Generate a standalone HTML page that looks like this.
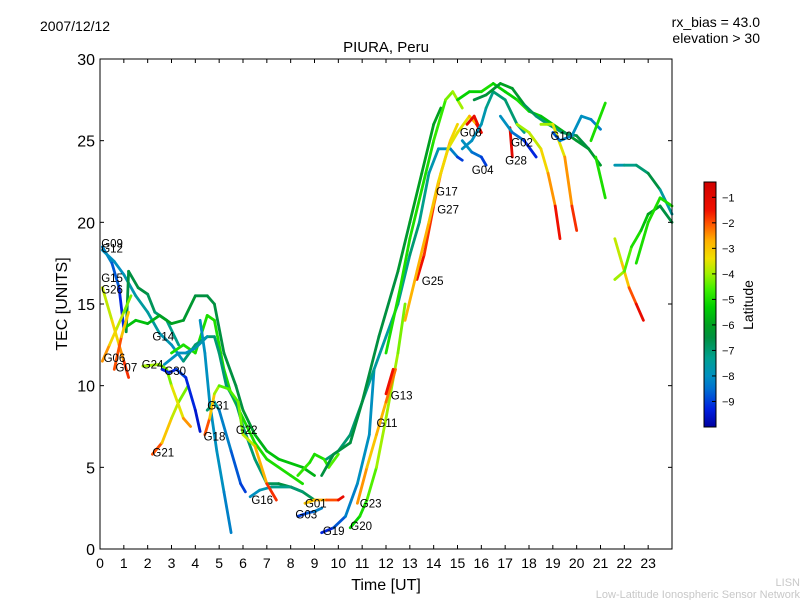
<!DOCTYPE html>
<html><head><meta charset="utf-8"><style>
body{margin:0;background:#fff}
svg{display:block;font-family:"Liberation Sans","DejaVu Sans",sans-serif}
</style></head><body>
<svg id="chart" width="800" height="600" viewBox="0 0 800 600">
<defs><linearGradient id="cmap" x1="0" y1="1" x2="0" y2="0"></linearGradient></defs>
<rect x="0" y="0" width="800" height="600" fill="#fff"/>
<text x="40" y="31" font-size="14">2007/12/12</text>
<text x="760" y="27" font-size="14" text-anchor="end">rx_bias = 43.0</text>
<text x="760" y="43" font-size="14" text-anchor="end">elevation &gt; 30</text>
<text x="386" y="52" font-size="15" text-anchor="middle">PIURA, Peru</text>
<g id="marks"></g>
<g id="labels"></g>
<rect x="100" y="59" width="572" height="490" fill="none" stroke="#000" stroke-width="1"/>
<g id="axes"></g>
<text x="386" y="590" font-size="16" text-anchor="middle">Time [UT]</text>
<text transform="translate(67,304) rotate(-90)" font-size="16" text-anchor="middle">TEC [UNITS]</text>
<rect x="704" y="182" width="12" height="245" fill="url(#cmap)" stroke="#000" stroke-width="1"/>
<g id="cbticks"></g>
<text transform="translate(753,305) rotate(-90)" font-size="14" text-anchor="middle">Latitude</text>
<text x="800" y="586" font-size="11" fill="#c8c8c8" text-anchor="end">LISN</text>
<text x="800" y="598" font-size="11" fill="#c8c8c8" text-anchor="end">Low-Latitude Ionospheric Sensor Network</text>
</svg>
<script>
const xTicks=[0,1,2,3,4,5,6,7,8,9,10,11,12,13,14,15,16,17,18,19,20,21,22,23];
const yTicks=[0,5,10,15,20,25,30];
const cbTicks=[-1,-2,-3,-4,-5,-6,-7,-8,-9];
// tracks: [hour, TEC, latitude]
const trackG09=[[0.1,18.5,-8],[0.5,17.5,-8.5],[0.8,16,-9],[1.0,13.5,-9.5]];
const trackG12=[[0.1,18.3,-8],[0.6,17.6,-8],[1.0,16.8,-8],[1.5,15.5,-7.5],[2.0,14.5,-7.5],[2.5,13.2,-7.5],[3.0,12.5,-8],[3.5,11.5,-8]];
const trackG15=[[1.1,13.3,-6.5],[1.2,17,-6.5],[1.6,16,-6.5],[2.0,15.6,-6.5],[2.3,14.5,-7],[2.8,14,-7],[3.3,12.5,-7.5]];
const trackG14=[[1.0,13.5,-5.5],[1.5,14,-5.5],[2.0,13.8,-5.5],[2.5,14.3,-6],[3.0,13.8,-6],[3.5,14,-6],[4.0,15.5,-6.5],[4.5,15.5,-6.5],[4.8,15,-6.5],[5.2,12,-6.5],[5.7,10,-6.5],[6.0,8.5,-6.5],[6.5,7,-6],[7,6,-5.5],[7.5,5.5,-5.5],[8.5,5,-5.5],[9,4.5,-6]];
const trackB=[[3.0,12,-5],[3.5,12.5,-5],[4.0,12,-5],[4.5,14.3,-5],[4.8,14,-5],[5.2,11,-5],[5.5,9.5,-5],[6.0,8,-5],[6.5,6.5,-5],[7,5.5,-5],[8,4.5,-5],[8.5,4,-5]];
const trackC=[[3.5,11.5,-7],[4.0,12.5,-7],[4.5,13,-7],[4.8,13,-7],[5.0,12,-7],[5.3,10,-7],[5.7,9,-7],[6.0,7.5,-7],[6.5,5.5,-7],[7,4,-7],[7.5,4,-6.5],[8,3.8,-6.5],[8.5,3.5,-6.5],[9,3,-7]];
const trackD=[[4.2,14,-8],[4.4,12,-8],[4.6,9,-8],[4.9,6,-8],[5.2,3.5,-8],[5.5,1,-8.5]];
const trackG31=[[4.5,8.5,-7],[4.8,9,-7],[5.0,8.5,-8],[5.5,6,-8.5],[5.9,4,-9],[6.1,3.5,-9]];
const trackG16=[[6.3,3.2,-8],[6.7,3.6,-8],[7.2,3.8,-7.5],[8,3.8,-7],[8.5,3.5,-7]];
const trackG18=[[4.4,7,-1.5],[4.6,8,-2.5],[4.8,9.5,-3.5],[5.0,10,-4.5]];
const trackG22=[[5.0,10,-4.5],[5.4,9.8,-4.5],[5.8,9,-4.5],[6.0,7,-4],[6.5,6.3,-3.5],[7,4,-2],[7.4,3,-1.5]];
const trackG21=[[2.2,5.8,-1.5],[2.6,6.5,-2.5],[3.0,8,-3.5],[3.3,9,-4],[3.7,10,-4.5]];
const trackG26=[[0.1,16,-4],[0.5,14,-3.5],[0.8,12.5,-3],[1.0,11.5,-2],[1.2,10.5,-1.5]];
const trackG06=[[0.1,11.5,-2],[0.4,12.5,-3],[0.7,13.5,-3.5],[1.0,14.5,-4],[1.3,15.5,-4.5]];
const trackG07=[[0.6,11,-1.5],[0.9,13,-2.5],[1.2,14.5,-3.5]];
const trackG24=[[1.8,11.2,-4],[2.5,11.3,-4],[2.8,11,-4.5],[3.0,10,-4],[3.5,8,-3],[3.8,7.5,-2]];
const trackG30=[[2.6,11,-9],[2.9,10.8,-9.5],[3.2,11,-9],[3.6,10.5,-9],[4.0,8.5,-9.5],[4.2,7.2,-9.5]];
const trackE=[[2.7,11.3,-8],[3.3,12,-8],[3.6,12,-8],[4,12.3,-8],[4.5,13,-7.5]];
const trackG03=[[8.3,2,-9],[8.7,2.2,-9],[9.0,2.3,-8.5],[9.3,2.5,-8]];
const trackG01=[[8.6,2.8,-3],[9,3,-3],[9.5,3,-2.5],[10,3,-1.5],[10.2,3.2,-1]];
const trackF=[[8.3,4.5,-4.5],[8.8,5.3,-5],[9.0,5.8,-5],[9.4,5.5,-5],[9.6,5,-4.5],[10.0,5.8,-4.5]];
const trackG19=[[9.3,1,-9.5],[9.8,1.3,-9],[10.3,2,-8.5],[10.8,4,-8],[11.3,7,-8],[11.5,11,-8]];
const trackG20=[[10.5,1.3,-5.5],[10.9,2,-5],[11.2,3,-5],[11.6,5,-4],[12,8,-4],[12.5,12,-4],[12.8,15,-4.5]];
const trackG23=[[10.8,2.8,-2],[11.2,5,-3],[11.6,7,-3],[12,9,-2.5],[12.4,11,-2]];
const trackG13=[[12,9.5,-1.5],[12.3,11,-1.5]];
const trackG11=[[9.5,5.5,-7],[10,6,-7],[10.5,7,-7],[11,9,-7],[11.5,11,-7.5],[12,13,-7.5],[12.5,15,-7.5],[13,18,-7],[13.4,20,-7],[13.8,23,-7.5],[14.2,24.5,-8],[14.7,24.5,-8],[15,24,-8.5],[15.2,23.8,-9.5]];
const trackH=[[9.3,4.5,-6.5],[9.8,5.8,-6.5],[10.5,6.5,-6.5],[11,9,-6.5],[11.7,13,-6.5],[12.5,17,-6.5],[13,20,-6],[13.5,23,-6],[14,26,-6],[14.3,27,-6]];
const trackI=[[12,12,-5],[12.6,16,-5],[13,19,-5],[13.5,22,-5],[14,25,-5],[14.5,27.5,-4.5],[14.8,28,-4],[15.2,27,-4]];
const trackG25=[[13.3,16.5,-1.5],[13.6,18,-1.5],[14,21,-2],[14.3,23,-2.5],[14.7,25,-3],[15,26,-3.5]];
const trackG17=[[12.8,14,-3],[13.3,17,-2.5],[13.8,20,-3],[14.2,22.5,-3],[14.6,24.5,-3.5],[15,25.5,-3.5],[15.5,26.5,-3.5],[15.8,26,-2],[16,25.5,-1]];
const trackG08=[[15.4,26,-1],[15.7,26.5,-1],[16,25.5,-1.5]];
const trackG04=[[15.2,25,-8],[15.6,24.3,-8],[16,24,-9],[16.2,23.5,-9]];
const trackJ=[[15.2,24.5,-8],[15.6,25,-8],[16,26,-8],[16.2,27,-7.5],[16.5,28,-7],[17,27.5,-7],[17.5,26,-7],[17.8,25.5,-7.5]];
const trackK=[[15.0,27.5,-5],[15.5,28,-5.5],[16,28,-5],[16.5,28.5,-5],[17,28,-5.5],[17.5,27.5,-5],[18,26.8,-5],[18.5,26.5,-5.5],[19,26,-5.5],[19.5,25.5,-6],[20,25,-6.5],[20.5,24.5,-6]];
const trackL=[[15.7,27.5,-6.5],[16.2,27.8,-6.5],[16.8,28.5,-6],[17.3,28.2,-6],[17.8,27.2,-6.5],[18.3,26.5,-7],[18.8,26,-7],[19.4,25.5,-7],[20,25.3,-6.5],[20.5,24.5,-6.5],[21,23.5,-6]];
const trackG02=[[17.2,25.8,-1],[17.3,24,-1]];
const trackG28=[[16.8,26.5,-8],[17.3,25.5,-8],[17.8,25,-9],[18.3,24,-9.5]];
const trackM=[[17.5,26,-4],[18,25.5,-4],[18.5,24.5,-3.5],[18.8,23,-3],[19.1,21,-2],[19.3,19,-1]];
const trackN=[[18.5,26,-4],[19,26,-4],[19.5,24,-3],[19.8,21,-2],[20,19.5,-1.5]];
const trackG10=[[19,25.5,-9],[19.3,25,-8.5],[19.8,25.3,-8],[20.2,26.5,-8],[20.6,26.3,-8],[21,25.7,-8.5]];
const trackO=[[20.6,25,-5],[21.2,27.3,-5]];
const trackP=[[20.8,24,-5],[21.2,21.5,-5]];
const trackQ=[[21.6,23.5,-8],[22,23.5,-7.5],[22.5,23.5,-7],[23,23,-7],[23.5,22,-6],[24,20.5,-9]];
const trackR=[[21.6,19,-4],[21.9,17.5,-3.5],[22.2,16,-2.5],[22.5,15,-1.5],[22.8,14,-1]];
const trackS=[[21.6,16.5,-4],[22,17,-4],[22.3,18.5,-5],[22.7,19.5,-5],[23,20.5,-6],[23.5,21,-6],[24,20,-7]];
const trackT=[[22.5,17.5,-5],[23,20,-5],[23.5,21.5,-5],[24,21,-5]];
const tracks=[trackG09,trackG12,trackG15,trackG14,trackB,trackC,trackD,trackG31,trackG16,trackG18,trackG22,trackG21,trackG26,trackG06,trackG07,trackG24,trackG30,trackE,trackG03,trackG01,trackF,trackG19,trackG20,trackG23,trackG13,trackG11,trackH,trackI,trackG25,trackG17,trackG08,trackG04,trackJ,trackK,trackL,trackG02,trackG28,trackM,trackN,trackG10,trackO,trackP,trackQ,trackR,trackS,trackT];
const labelNames=["G09","G12","G15","G26","G06","G07","G24","G30","G14","G31","G18","G22","G21","G16","G01","G03","G19","G20","G23","G11","G13","G25","G17","G27","G08","G04","G02","G28","G10"];
const labelHours=[0.05,0.05,0.05,0.05,0.15,0.65,1.75,2.7,2.2,4.5,4.35,5.7,2.2,6.35,8.6,8.2,9.35,10.5,10.9,11.6,12.2,13.5,14.1,14.15,15.1,15.6,17.25,17.0,18.9];
const labelTec=[18.7,18.4,16.6,15.9,11.7,11.1,11.3,10.9,13.0,8.8,6.9,7.3,5.9,3.0,2.8,2.1,1.1,1.4,2.8,7.7,9.4,16.4,21.9,20.8,25.5,23.2,24.9,23.8,25.3];

const X0=100,X1=672,Y0=549,Y1=59;
const xs=h=>X0+h/24*(X1-X0);
const ys=v=>Y0-v/30*(Y0-Y1);
const LMIN=-10,LMAX=-0.4;
const cbY=l=>427-(l-LMIN)/(LMAX-LMIN)*245;
// colormap stops (latitude -> colour), matched to reference colorbar
const cmLat=[-10,-9.3,-8.5,-8,-7.3,-6.5,-6,-5.3,-4.6,-4,-3.4,-2.7,-2,-1.5,-0.4];
const cmCol=[[0,0,160],[0,32,224],[0,112,208],[0,144,192],[0,160,144],[0,144,64],[0,160,32],[0,208,0],[64,240,0],[160,240,0],[240,224,0],[255,176,0],[255,80,0],[240,16,0],[208,0,0]];
function cmap(l){
  if(l<=cmLat[0])return `rgb(${cmCol[0]})`;
  for(let i=0;i<cmLat.length-1;i++){
    if(l<=cmLat[i+1]){const f=(l-cmLat[i])/(cmLat[i+1]-cmLat[i]);
      const c=cmCol[i].map((v,k)=>Math.round(v+(cmCol[i+1][k]-v)*f));return `rgb(${c})`;}
  }
  return `rgb(${cmCol[cmCol.length-1]})`;
}
const NS="http://www.w3.org/2000/svg";
const grad=document.getElementById('cmap');
cmLat.forEach((l,i)=>{const s=document.createElementNS(NS,'stop');s.setAttribute('offset',(l-LMIN)/(LMAX-LMIN));s.setAttribute('stop-color',`rgb(${cmCol[i]})`);grad.appendChild(s);});
const marks=document.getElementById('marks');
tracks.forEach(tr=>{
  const g=document.createElementNS(NS,'g');
  
  
  for(let i=0;i<tr.length-1;i++){
    const a=tr[i],b=tr[i+1];
    const ln=document.createElementNS(NS,'line');
    
    
    ln.setAttribute('x1',xs(a[0]));ln.setAttribute('y1',ys(a[1]));
    ln.setAttribute('x2',xs(b[0]));ln.setAttribute('y2',ys(b[1]));
    ln.setAttribute('stroke',cmap((a[2]+b[2])/2));
    ln.setAttribute('stroke-width','2.8');
    ln.setAttribute('stroke-linecap','round');
    g.appendChild(ln);
  }
  marks.appendChild(g);
});
const labels=document.getElementById('labels');
labelNames.forEach((n,i)=>{
  const t=document.createElementNS(NS,'text');
  
  
  t.setAttribute('x',xs(labelHours[i]));t.setAttribute('y',ys(labelTec[i])+4);
  t.setAttribute('font-size','11.5');
  t.textContent=n;labels.appendChild(t);
});
const axes=document.getElementById('axes');
function add(tag,attrs,txt){const e=document.createElementNS(NS,tag);for(const k in attrs)e.setAttribute(k,attrs[k]);if(txt!==undefined)e.textContent=txt;axes.appendChild(e);return e;}
xTicks.forEach(h=>{
  const x=xs(h);
  const t1=add('line',{x1:x,y1:Y0,x2:x,y2:Y0-4,stroke:'#000'});
  
  
  const t2=add('line',{x1:x,y1:Y1,x2:x,y2:Y1+4,stroke:'#000'});
  
  
  const l=add('text',{x:x,y:568,'font-size':'14','text-anchor':'middle'},String(h));
  
  
});
yTicks.forEach(v=>{
  const y=ys(v);
  const t1=add('line',{x1:X0,y1:y,x2:X0+4,y2:y,stroke:'#000'});
  
  
  const t2=add('line',{x1:X1,y1:y,x2:X1-4,y2:y,stroke:'#000'});
  
  
  const l=add('text',{x:95,y:y+6,'font-size':'16','text-anchor':'end'},String(v));
  
  
});
const cbt=document.getElementById('cbticks');
cbTicks.forEach(v=>{
  const y=cbY(v);
  const ln=document.createElementNS(NS,'line');
  
  
  ln.setAttribute('x1',712);ln.setAttribute('x2',716);ln.setAttribute('y1',y);ln.setAttribute('y2',y);ln.setAttribute('stroke','#000');
  cbt.appendChild(ln);
  const t=document.createElementNS(NS,'text');
  
  
  t.setAttribute('x',722);t.setAttribute('y',y+4);t.setAttribute('font-size','11');
  t.textContent='\u2212'+Math.abs(v);cbt.appendChild(t);
});
</script>
</body></html>
